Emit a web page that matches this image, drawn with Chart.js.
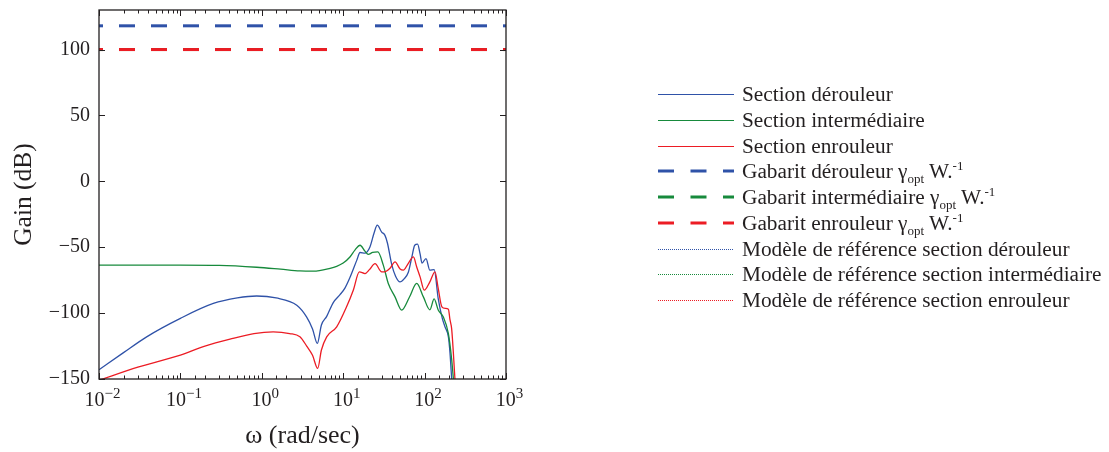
<!DOCTYPE html>
<html>
<head>
<meta charset="utf-8">
<script src="https://cdn.jsdelivr.net/npm/chart.js@4"></script>
<style>
    body { margin: 0; background: #fff; }
    #wrap { position: relative; width: 1109px; height: 452px; }
    #legend { position: absolute; left: 658px; top: 0; font-family: "Liberation Serif", serif; font-size: 21.3px; color: #231f20; }
    .item { position: absolute; left: 0; height: 26px; display: flex; align-items: center; white-space: nowrap; }
    .swatch { display: block; margin-right: 8px; flex: none; }
    sub { font-size: 13px; vertical-align: -5px; line-height: 0; }
    sup { font-size: 13px; vertical-align: 8px; line-height: 0; }
</style>
</head>
<body>
<div id="wrap">
    <canvas id="chart" width="1109" height="452"></canvas>
    <div id="legend"></div>
</div>
<script>
// frequences (rad/s) et gains (dB)
const freqDer = [0.01, 0.02, 0.0385, 0.1, 0.254, 0.5, 0.865, 1.5, 2.69, 3.56, 4.2, 4.81, 5.4, 6.27, 7.55, 9.14, 10.5, 12.1, 14.7, 16.1, 18.5, 21.3, 24, 26.2, 29.7, 32.6, 35, 39.4, 44, 49.9, 56, 63.1, 70, 75.6, 82, 88, 93, 104, 116, 131, 147, 165, 178, 196, 205, 215, 222];
const gainDer = [-143, -130, -118, -104, -92.7, -88.5, -87, -88.5, -94, -103, -112, -123, -109, -102.5, -92, -86, -81, -73, -59.8, -54, -54.5, -49.8, -39, -33.3, -38.5, -41, -47, -63, -72, -76.3, -74, -69, -57, -48.5, -47.7, -55, -62, -58.6, -67.4, -67, -89, -104, -110.4, -118, -130, -150, -165];

const freqInt = [0.01, 0.1, 0.3, 0.865, 1.7, 2.94, 4.3, 6.9, 8.3, 10, 12.1, 14, 16.1, 18.5, 20.3, 23, 26.6, 31.1, 35.8, 43.3, 52.3, 65, 80, 96.6, 116, 131, 147, 170, 196, 215, 226, 235];
const gainInt = [-63.6, -63.6, -63.8, -65.2, -66.7, -68, -68.2, -66, -64.5, -62, -57.4, -52, -48.5, -53, -55.5, -54, -53.6, -63.6, -77.5, -87.7, -97.7, -88, -77.5, -87.7, -97.5, -89.2, -97.7, -103, -115.5, -135, -150, -160];

const freqEnr = [0.01, 0.03, 0.1, 0.2, 0.407, 0.8, 1.38, 2.2, 2.94, 3.56, 4.2, 4.86, 5.4, 6.27, 8.32, 11, 13.3, 15.8, 18.5, 21, 24.6, 29.7, 33, 37.6, 43.3, 50, 54.8, 62, 72.8, 80, 88, 99, 116, 134, 147, 163, 180, 196, 205, 215, 236, 245];
const gainEnr = [-151, -141, -131.8, -125, -119.7, -115.5, -114.2, -115.5, -118, -125, -132, -142, -128, -118, -110.4, -95.2, -82.6, -68.7, -70, -67, -62.5, -68.7, -68.5, -66, -61.1, -66.5, -67.4, -63, -57.4, -65, -72.5, -82.6, -76.3, -68.7, -81.3, -95.2, -96.4, -97, -105, -112, -150, -165];

// gabarits gamma_opt W^-1 (dB) : dérouleur, intermédiaire, enrouleur
const gabarits = [118, 100, 100];
const xRange = [0.01, 1000];
const xDecades = [0.01, 0.1, 1, 10, 100, 1000];
const yTicks = [-150, -100, -50, 0, 50, 100];

const labels = [
    'Section dérouleur', 'Section intermédiaire', 'Section enrouleur',
    'Gabarit dérouleur γopt W.-1', 'Gabarit intermédiaire γopt W.-1', 'Gabarit enrouleur γopt W.-1',
    'Modèle de référence section dérouleur', 'Modèle de référence section intermédiaire', 'Modèle de référence section enrouleur'
];
const colors = ['#2f52a8', '#178a3c', '#ec1c24'];
const ink = '#231f20';
const serif = '"Liberation Serif", "Times New Roman", serif';

const pairs = (xs, ys) => xs.map((x, i) => ({ x, y: ys[i] }));
const curves = [pairs(freqDer, gainDer), pairs(freqInt, gainInt), pairs(freqEnr, gainEnr)];

const datasets = [];
curves.forEach((d, i) => datasets.push({
    label: labels[i], data: d, borderColor: colors[i], borderWidth: 1.3,
    cubicInterpolationMode: 'monotone'
}));
gabarits.forEach((g, i) => datasets.push({
    label: labels[3 + i], data: pairs(xRange, [g, g]), borderColor: colors[i], borderWidth: 3,
    borderDash: [16, 16], borderDashOffset: 12
}));
colors.forEach((c, i) => datasets.push({
    label: labels[6 + i], data: [], borderColor: c, borderWidth: 1, borderDash: [1, 1.5]
}));
// ordre MATLAB : le dernier tracé passe au-dessus
datasets.forEach((ds, i) => { ds.order = datasets.length - i; ds.pointRadius = 0; ds.fill = false; });

const isDecade = v => Math.abs(Math.log10(v) - Math.round(Math.log10(v))) < 1e-9;

// cadre, graduations internes et étiquettes 10^n
const frame = {
    id: 'frame',
    afterDraw(chart) {
        const { ctx, chartArea: a, scales: { x, y } } = chart;
        ctx.save();
        ctx.strokeStyle = ink;
        ctx.lineWidth = 1.3;
        ctx.strokeRect(a.left, a.top, a.right - a.left, a.bottom - a.top);
        ctx.beginPath();
        x.ticks.forEach(t => {
            const px = Math.round(x.getPixelForValue(t.value)) + 0.5;
            const len = isDecade(t.value) ? 6 : 3.5;
            ctx.moveTo(px, a.bottom); ctx.lineTo(px, a.bottom - len);
            ctx.moveTo(px, a.top); ctx.lineTo(px, a.top + len);
        });
        y.ticks.forEach(t => {
            const py = Math.round(y.getPixelForValue(t.value)) + 0.5;
            ctx.moveTo(a.left, py); ctx.lineTo(a.left + 6, py);
            ctx.moveTo(a.right, py); ctx.lineTo(a.right - 6, py);
        });
        ctx.lineWidth = 1;
        ctx.stroke();

        ctx.fillStyle = ink;
        ctx.textAlign = 'left';
        ctx.textBaseline = 'alphabetic';
        xDecades.forEach(v => {
            const e = Math.round(Math.log10(v));
            const exp = e < 0 ? '\u2212' + (-e) : String(e);
            ctx.font = '20px ' + serif;
            const wb = ctx.measureText('10').width;
            ctx.font = '15px ' + serif;
            const we = ctx.measureText(exp).width;
            const left = x.getPixelForValue(v) + 3.5 - (wb + we) / 2;
            ctx.font = '20px ' + serif;
            ctx.fillText('10', left, 406);
            ctx.font = '15px ' + serif;
            ctx.fillText(exp, left + wb, 398);
        });
        ctx.restore();
    }
};

// légende HTML (indices et exposants), traits dessinés sur de petits canvas
const htmlLegend = {
    id: 'htmlLegend',
    afterUpdate(chart) {
        const box = document.getElementById('legend');
        box.innerHTML = '';
        chart.data.datasets.forEach((ds, i) => {
            const row = document.createElement('div');
            row.className = 'item';
            row.style.top = Math.round(81 + i * 25.75) + 'px';
            const sw = document.createElement('canvas');
            sw.className = 'swatch';
            sw.width = 76; sw.height = 6;
            const g = sw.getContext('2d');
            g.strokeStyle = ds.borderColor;
            g.lineWidth = ds.borderWidth === 3 ? 3 : 1;
            if (ds.borderDash) g.setLineDash(ds.borderDash[0] > 2 ? [16, 16.5] : [1, 1]);
            g.beginPath();
            g.moveTo(0, ds.borderWidth === 3 ? 3 : 3.5);
            g.lineTo(76, ds.borderWidth === 3 ? 3 : 3.5);
            g.stroke();
            const txt = document.createElement('span');
            txt.innerHTML = ds.label.replace(/γopt W\.-1/, 'γ<sub>opt</sub> W.<sup>-1</sup>');
            row.appendChild(sw);
            row.appendChild(txt);
            box.appendChild(row);
        });
    }
};

new Chart(document.getElementById('chart'), {
    type: 'line',
    data: { datasets },
    options: {
        responsive: false,
        animation: false,
        layout: { padding: { top: 10, right: 603, left: 0, bottom: 0 } },
        plugins: { legend: { display: false }, tooltip: { enabled: false } },
        scales: {
            x: {
                type: 'logarithmic',
                min: xRange[0], max: xRange[1],
                grid: { display: false, drawTicks: false },
                border: { display: false },
                ticks: { display: false, autoSkip: false },
                title: { display: true, text: 'ω (rad/sec)', color: ink, font: { family: serif, size: 26 }, padding: { top: 0, bottom: 0 } },
                afterFit: s => { s.height = 73; s.paddingLeft = 0; s.paddingRight = 0; }
            },
            y: {
                min: -150, max: 130,
                afterBuildTicks: s => { s.ticks = yTicks.map(v => ({ value: v })); },
                grid: { display: false, drawTicks: false },
                border: { display: false },
                ticks: {
                    padding: 9, color: ink, font: { family: serif, size: 20 },
                    callback: v => (v < 0 ? '\u2212' + (-v) : String(v))
                },
                title: { display: true, text: 'Gain (dB)', color: ink, font: { family: serif, size: 25.5 }, padding: { top: 9, bottom: 0 } },
                afterFit: s => { s.width = 99; s.paddingTop = 0; s.paddingBottom = 0; }
            }
        }
    },
    plugins: [frame, htmlLegend]
});
</script>
</body>
</html>
